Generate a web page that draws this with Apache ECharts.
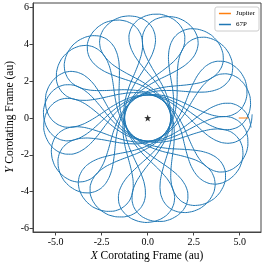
<!DOCTYPE html>
<html><head><meta charset="utf-8">
<script src="https://cdn.jsdelivr.net/npm/echarts@6/dist/echarts.min.js"></script>
<style>html,body{margin:0;padding:0;background:#fff}#c{width:266px;height:266px}</style>
</head><body><div id="c"></div>
<script>
// ---- data ----
// one revolution of 67P in the corotating frame, starting at the aphelion tip:
// radius (au) and angle relative to that tip (deg)
const loopRadius = [5.68,5.64,5.54,5.38,5.16,4.88,4.57,4.22,3.84,3.46,3.08,2.70,2.35,2.04,1.76,1.54,1.38,1.28,1.25,
                    1.28,1.38,1.54,1.76,2.04,2.35,2.70,3.08,3.46,3.84,4.22,4.57,4.88,5.16,5.38,5.54,5.64];
const loopAngle  = [0,-4.2,-8.2,-11.9,-15.2,-17.8,-19.5,-20.4,-20.1,-18.6,-15.6,-10.9,-4.3,4.4,15.5,29.1,45.1,63.1,82.3,
                    101.4,119.5,135.5,149.0,160.1,168.8,175.4,180.1,183.1,184.6,184.9,184.1,182.3,179.7,176.5,172.7,168.7];
// aphelion-tip direction (deg) of each successive loop
const tipAngles = [2,166.5,331,135.6,300.1,104.6,269.1,73.6,238.2,42.7,207.2,11.7,176.2,340.8,145.3,309.8,
                   114.3,278.8,83.4,247.9,52.4,216.9,21.4,186.0];
const jupiterX = [4.95, 5.46];
const jupiterY = [0, 0];
const sunX = [0], sunY = [0];
const xTicks = [-5, -2.5, 0, 2.5, 5];
const yTicks = [-6, -4, -2, 0, 2, 4, 6];

// ---- build ----
const cometData = [];
tipAngles.forEach(t => {
  loopRadius.forEach((r, i) => cometData.push([r, t + loopAngle[i]]));
});
const FONT = 'Liberation Serif';
const chart = echarts.init(document.getElementById('c'), null, {renderer:'canvas'});
const star = 'path://M0,-10L2.35,-3.24L9.51,-3.09L3.8,1.24L5.88,8.09L0,4L-5.88,8.09L-3.8,1.24L-9.51,-3.09L-2.35,-3.24Z';
const nameStyle = (txt) => ({
  text: txt, fill:'#000', fontFamily:FONT, fontSize:11.5, align:'center', verticalAlign:'middle',
  rich:{i:{fontFamily:FONT,fontStyle:'italic',fontSize:11.5,fill:'#000'}}
});
chart.setOption({
  animation:false,
  grid:{left:33,right:5,top:3,bottom:34,outerBoundsMode:'none',containLabel:false,
        show:true,borderColor:'#444',borderWidth:1,backgroundColor:'transparent'},
  polar:{center:[147.7,118],radius:110.4},
  angleAxis:{type:'value',min:0,max:360,startAngle:0,clockwise:false,show:false},
  radiusAxis:{type:'value',min:0,max:6,show:false},
  graphic:[
    {type:'text',x:147,y:255.5,style:nameStyle('{i|X} Corotating Frame (au)')},
    {type:'text',x:10,y:117,rotation:Math.PI/2,style:nameStyle('{i|Y} Corotating Frame (au)')}
  ],
  xAxis:{type:'value',min:-6.234,max:6.158,
    axisLine:{onZero:false,lineStyle:{color:'#444'}},splitLine:{show:false},
    axisTick:{length:3.5,customValues:xTicks,lineStyle:{color:'#444'}},
    axisLabel:{customValues:xTicks,formatter:v=>v.toFixed(1),fontFamily:FONT,fontSize:10,color:'#000',margin:5}},
  yAxis:{type:'value',min:-6.196,max:6.25,
    axisLine:{onZero:false,lineStyle:{color:'#444'}},splitLine:{show:false},
    axisTick:{length:3.5,customValues:yTicks,lineStyle:{color:'#444'}},
    axisLabel:{customValues:yTicks,formatter:v=>String(v),fontFamily:FONT,fontSize:10,color:'#000',margin:4}},
  legend:{right:7,top:7,orient:'vertical',icon:'rect',itemWidth:12,itemHeight:1.5,itemGap:4,
    padding:[3,4,3,4],backgroundColor:'#fff',borderColor:'#ccc',borderWidth:1,borderRadius:2,
    textStyle:{fontFamily:FONT,fontSize:7,color:'#000'},data:['Jupiter','67P']},
  series:[
    {name:'67P',type:'line',coordinateSystem:'polar',data:cometData,symbol:'none',smooth:0.2,
     color:'#1f77b4',lineStyle:{width:1,color:'#1f77b4'},z:2},
    {name:'Jupiter',type:'line',data:jupiterX.map((x,i)=>[x,jupiterY[i]]),symbol:'none',
     color:'#ff7f0e',lineStyle:{width:1.2,color:'#ff7f0e'},z:3},
    {name:'Sun',type:'scatter',data:sunX.map((x,i)=>[x,sunY[i]]),symbol:star,symbolSize:7,
     itemStyle:{color:'#000'},z:4}
  ]
});
</script></body></html>
